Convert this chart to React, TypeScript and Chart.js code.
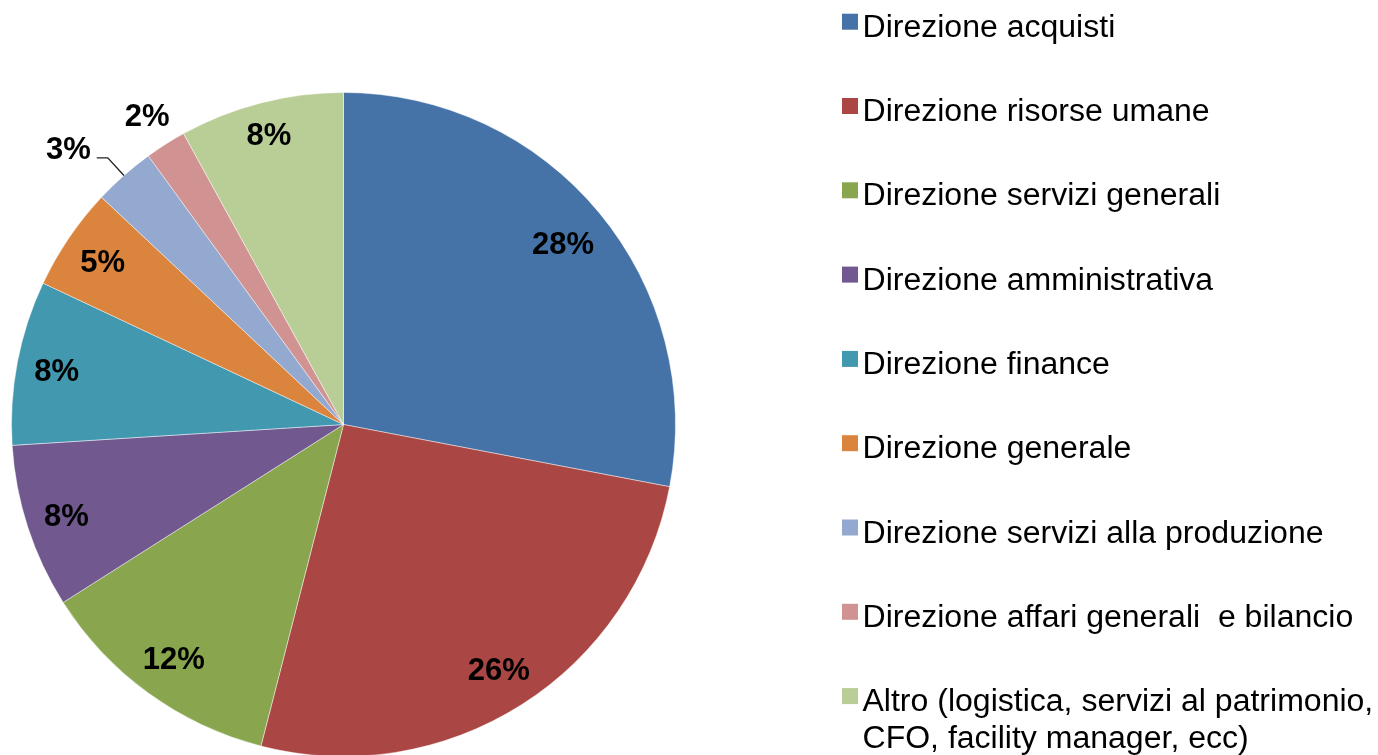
import { useEffect, useRef } from 'react';
import { Chart, registerables } from 'chart.js';

Chart.register(...registerables);

const categories: string[] = [
  'Direzione acquisti',
  'Direzione risorse umane',
  'Direzione servizi generali',
  'Direzione amministrativa',
  'Direzione finance',
  'Direzione generale',
  'Direzione servizi alla produzione',
  'Direzione affari generali  e bilancio',
  'Altro (logistica, servizi al patrimonio,\nCFO, facility manager, ecc)',
];

const shares: number[] = [28, 26, 12, 8, 8, 5, 3, 2, 8];

const colors: string[] = [
  '#4572A7',
  '#AA4643',
  '#89A54E',
  '#71588F',
  '#4198AF',
  '#DB843D',
  '#93A9CF',
  '#D19392',
  '#B9CD96',
];

const FONT = '"Liberation Sans", Arial, sans-serif';

type Box = { left: number; right: number; top: number; bottom: number };

const percentLabelPlugin = {
  id: 'percentLabels',
  afterDatasetsDraw(chart: any) {
    const meta = chart.getDatasetMeta(0);
    const data: number[] = chart.data.datasets[0].data;
    const total = data.reduce((a: number, b: number) => a + b, 0);
    const ctx: CanvasRenderingContext2D = chart.ctx;
    ctx.save();
    const fontSize = 31;
    ctx.font = `bold ${fontSize}px ${FONT}`;
    const capH = fontSize * 0.716;

    const items = meta.data.map((arc: any, i: number) => {
      const p = arc.getProps(['x', 'y', 'startAngle', 'endAngle', 'outerRadius'], true);
      const mid = (p.startAngle + p.endAngle) / 2;
      const dx = Math.cos(mid);
      const dy = Math.sin(mid);
      const text = `${Math.round((data[i] / total) * 100)}%`;
      const w = ctx.measureText(text).width;
      const halfExt = Math.abs(dx) * (w / 2) + Math.abs(dy) * (capH / 2);
      const outside = data[i] / total < 0.04;
      const d = outside ? p.outerRadius + 13 + halfExt : p.outerRadius - 16 - halfExt;
      return {
        text,
        w,
        outside,
        cx: p.x + dx * d,
        cy: p.y + dy * d,
        edgeX: p.x + dx * p.outerRadius,
        edgeY: p.y + dy * p.outerRadius,
        centerX: p.x,
        leader: false,
      };
    });

    const placed: Box[] = [];
    for (let i = items.length - 1; i >= 0; i--) {
      const it = items[i];
      if (!it.outside) continue;
      const pad = 15;
      for (const b of placed) {
        const l = it.cx - it.w / 2;
        const r = it.cx + it.w / 2;
        const t = it.cy - capH / 2;
        const bt = it.cy + capH / 2;
        const hit = l < b.right + pad && r > b.left - pad && t < b.bottom + pad && bt > b.top - pad;
        if (hit) {
          if (it.cx < it.centerX) it.cx = b.left - 34 - it.w / 2;
          else it.cx = b.right + 34 + it.w / 2;
          it.leader = true;
        }
      }
      placed.push({
        left: it.cx - it.w / 2,
        right: it.cx + it.w / 2,
        top: it.cy - capH / 2,
        bottom: it.cy + capH / 2,
      });
    }

    ctx.textAlign = 'center';
    ctx.textBaseline = 'alphabetic';
    ctx.fillStyle = '#000';
    items.forEach((it: any) => {
      ctx.fillText(it.text, it.cx, it.cy + capH / 2);
      if (it.leader) {
        const left = it.cx < it.centerX;
        const sx = left ? it.cx + it.w / 2 + 6 : it.cx - it.w / 2 - 6;
        const sy = it.cy + 9.5;
        const ex = left ? sx + 11 : sx - 11;
        ctx.beginPath();
        ctx.strokeStyle = '#222';
        ctx.lineWidth = 1.4;
        ctx.moveTo(sx, sy);
        ctx.lineTo(ex, sy);
        ctx.lineTo(it.edgeX, it.edgeY);
        ctx.stroke();
      }
    });
    ctx.restore();
  },
};

const sideLegendPlugin = {
  id: 'sideLegend',
  afterDraw(chart: any) {
    const ctx: CanvasRenderingContext2D = chart.ctx;
    const labels: string[] = chart.data.labels;
    const bg: string[] = chart.data.datasets[0].backgroundColor;
    const fontSize = 31;
    const capH = fontSize * 0.716;
    ctx.save();
    ctx.font = `${fontSize}px ${FONT}`;
    ctx.textAlign = 'left';
    ctx.textBaseline = 'alphabetic';
    labels.forEach((lab, i) => {
      const capCenter = 25.8 + i * 84.3;
      const capTop = capCenter - capH / 2;
      ctx.fillStyle = bg[i];
      ctx.fillRect(842, capTop - 1, 16, 16);
      ctx.fillStyle = '#000';
      lab.split('\n').forEach((line, j) => {
        ctx.save();
        ctx.translate(862.5, capCenter + capH / 2 + j * 36.5);
        ctx.scale(1.033, 1);
        ctx.fillText(line, 0, 0);
        ctx.restore();
      });
    });
    ctx.restore();
  },
};

export default function App() {
  const canvasRef = useRef<HTMLCanvasElement | null>(null);

  useEffect(() => {
    const canvas = canvasRef.current;
    if (!canvas) return;
    const chart = new Chart(canvas, {
      type: 'pie',
      data: {
        labels: categories,
        datasets: [
          {
            data: shares,
            backgroundColor: colors,
            borderColor: 'rgba(255,255,255,0.45)',
            borderWidth: 1,
            radius: 332,
          } as any,
        ],
      },
      options: {
        responsive: false,
        animation: false,
        layout: { padding: { left: 11, right: 702, top: 94, bottom: 0 } },
        plugins: {
          legend: { display: false },
          tooltip: { enabled: false },
        },
      },
      plugins: [percentLabelPlugin, sideLegendPlugin],
    });
    return () => chart.destroy();
  }, []);

  return (
    <div style={{ position: 'fixed', left: 0, top: 0, width: 1378, height: 755, overflow: 'hidden', background: '#fff' }}>
      <canvas ref={canvasRef} width={1378} height={755} style={{ display: 'block', width: 1378, height: 755 }} />
    </div>
  );
}
